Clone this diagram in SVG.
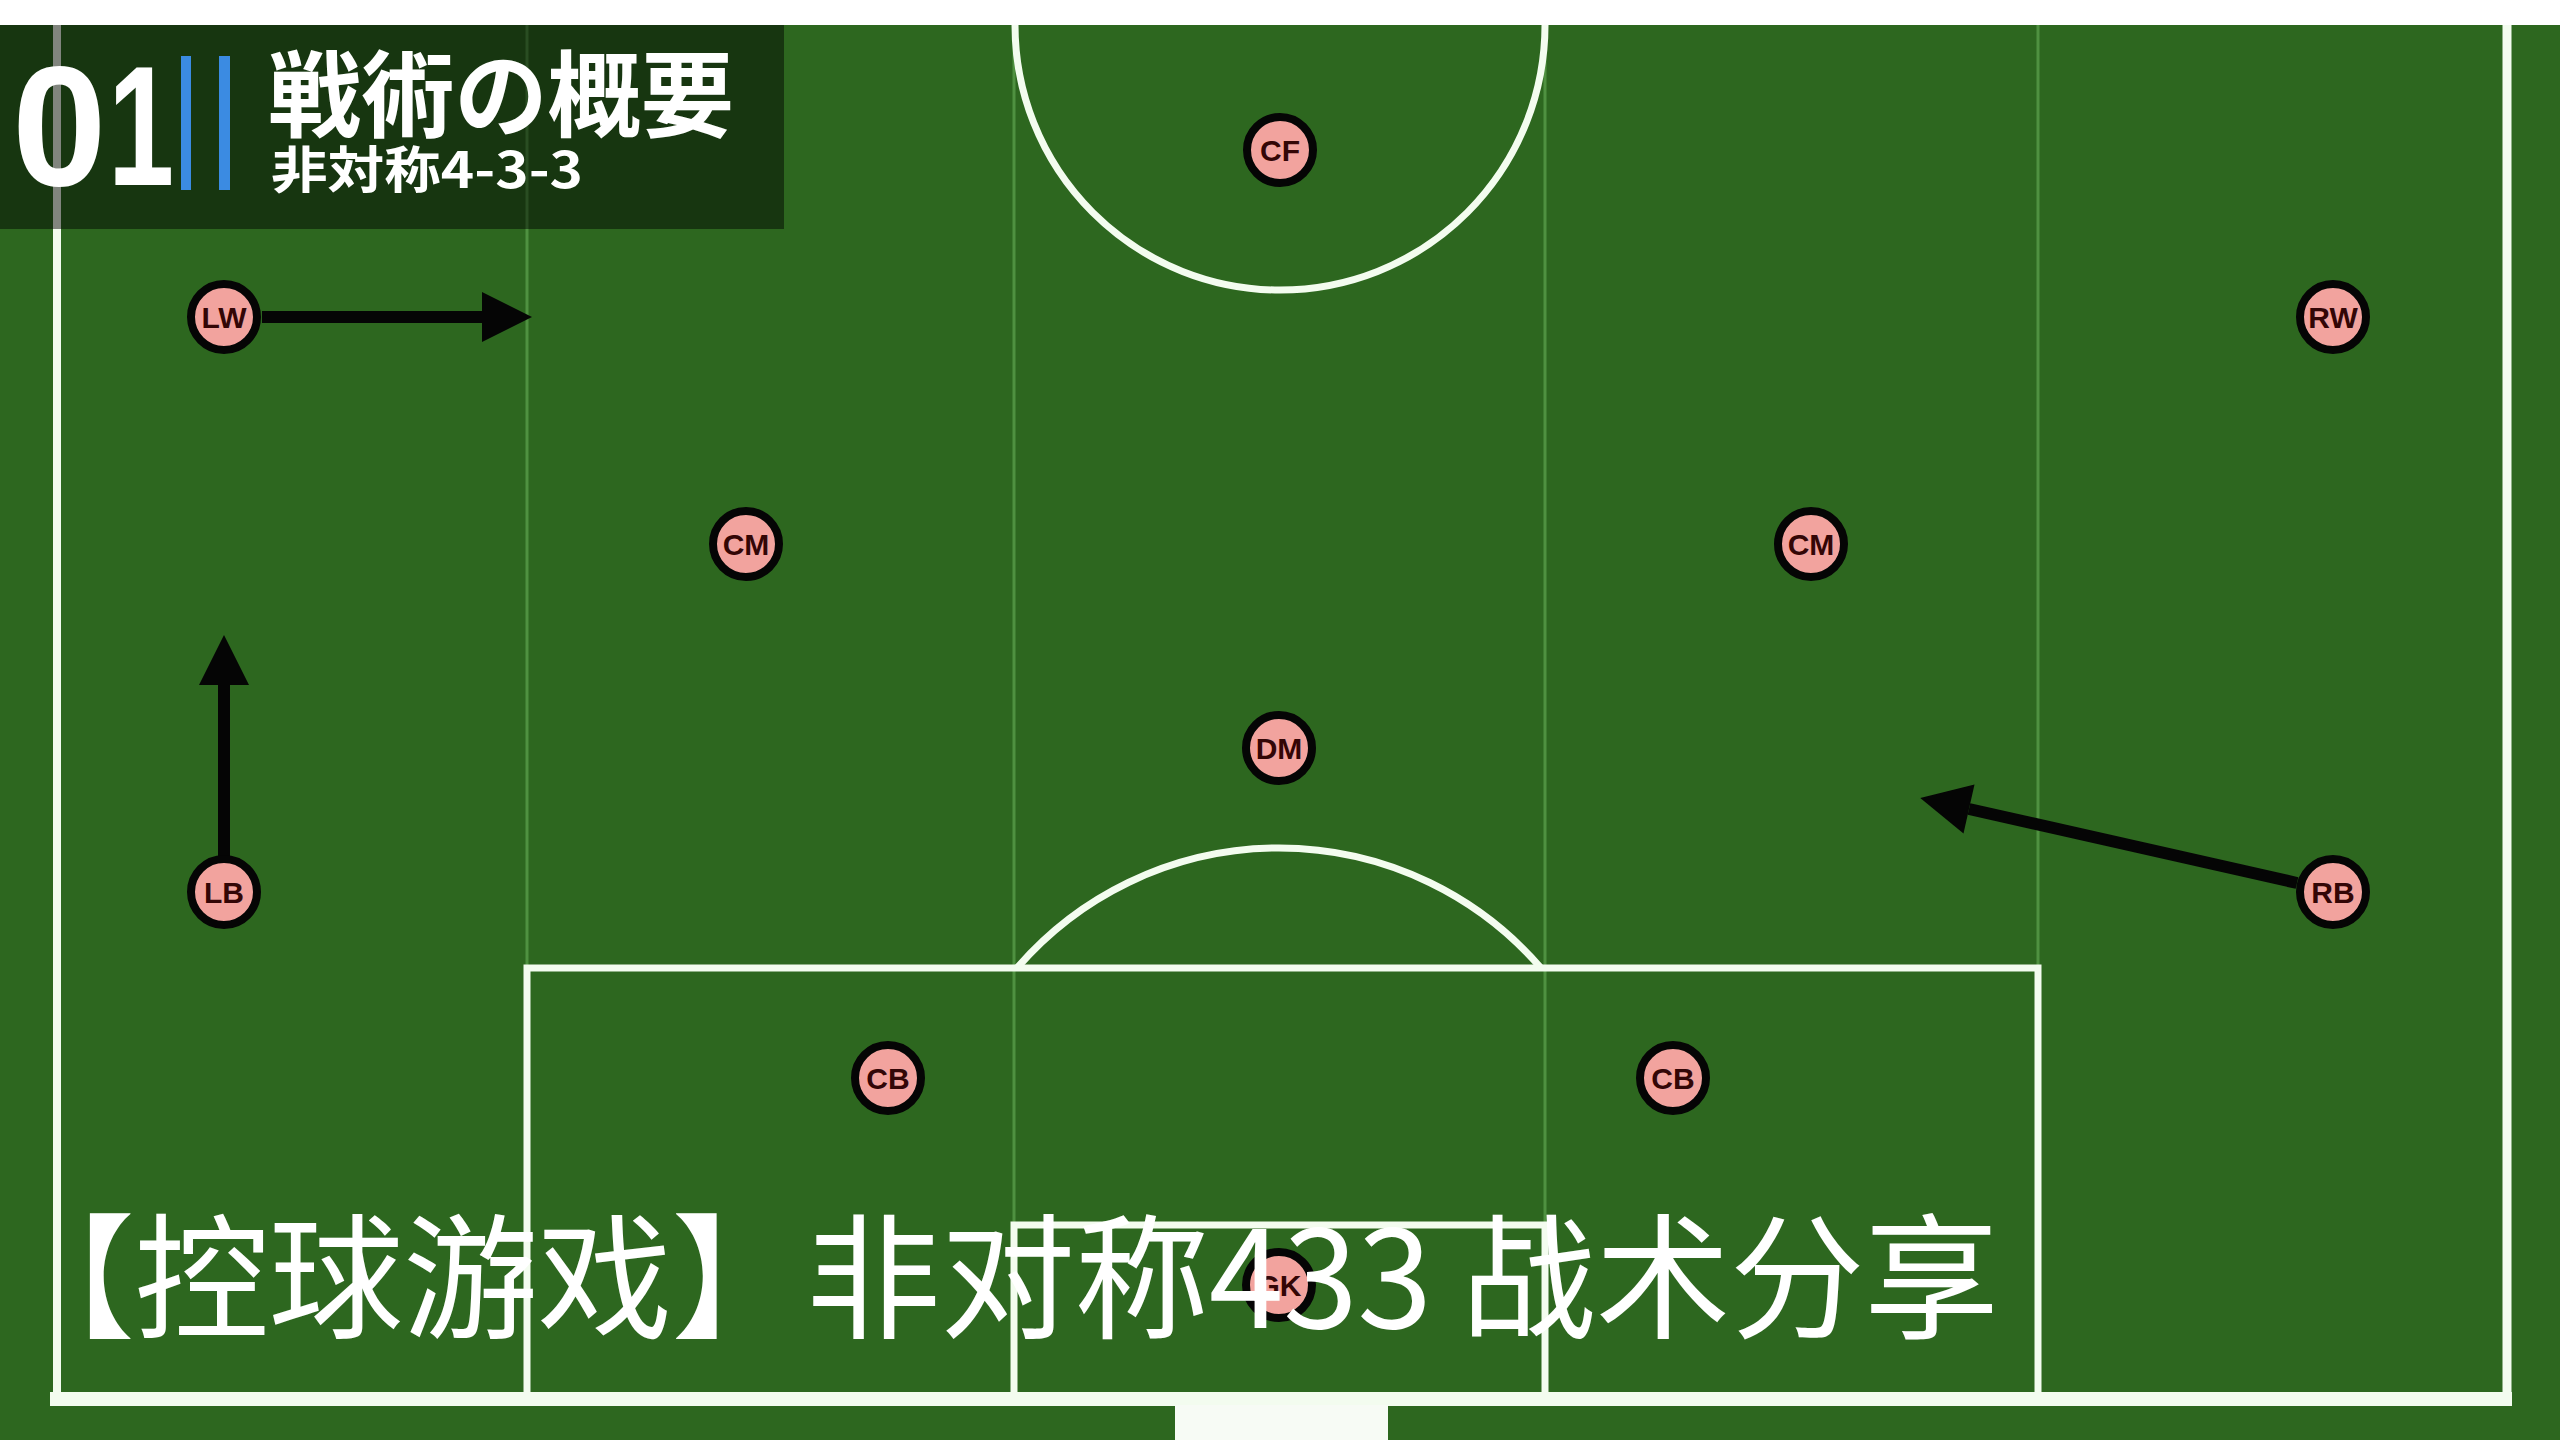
<svg xmlns="http://www.w3.org/2000/svg" width="2560" height="1440" viewBox="0 0 2560 1440">
  <style>
    .chalk { fill: none; stroke: #f3fcef; stroke-width: 7; }
    .zone { stroke: #4f9140; stroke-width: 3; fill: none; }
    .player circle { fill: #f2a39e; stroke: #050505; stroke-width: 8; }
    .player text { font-family: "Liberation Sans", Arial, sans-serif; font-weight: bold; font-size: 30px; fill: #330606; text-anchor: middle; }
    .move { stroke: #050505; stroke-width: 12; fill: none; marker-end: url(#head); }
    .big { font-family: "Liberation Sans", Arial, sans-serif; font-weight: bold; font-size: 170px; fill: #ffffff; }
  </style>
  <defs>
    <marker id="head" markerUnits="userSpaceOnUse" markerWidth="52" markerHeight="52" refX="0" refY="0" viewBox="0 -26 52 52" orient="auto" overflow="visible">
      <path d="M0,-25 L50,0 L0,25 Z" fill="#050505"/>
    </marker>
  </defs>

  <!-- background -->
  <rect x="0" y="0" width="2560" height="1440" fill="#2d671f"/>
  <rect x="0" y="0" width="2560" height="25" fill="#ffffff"/>

  <!-- zone lines -->
  <g id="zones">
    <line class="zone" x1="527" y1="25" x2="527" y2="1399"/>
    <line class="zone" x1="1014" y1="25" x2="1014" y2="1399"/>
    <line class="zone" x1="1545" y1="25" x2="1545" y2="1399"/>
    <line class="zone" x1="2038" y1="25" x2="2038" y2="1399"/>
  </g>

  <!-- pitch markings -->
  <g id="pitch">
    <line class="chalk" x1="57" y1="25" x2="57" y2="1399" style="stroke-width:8"/>
    <line class="chalk" x1="2507" y1="25" x2="2507" y2="1399" style="stroke-width:9"/>
    <path class="chalk" d="M1015,25 A265,265 0 0 0 1545,25"/>
    <rect class="chalk" x="527" y="968" width="1511" height="431"/>
    <rect class="chalk" x="1014" y="1225" width="531" height="174"/>
    <path class="chalk" d="M1017,968 A346,346 0 0 1 1541,968"/>
    <line class="chalk" x1="50" y1="1399" x2="2512" y2="1399" style="stroke-width:14"/>
    <rect x="1175" y="1405" width="213" height="35" fill="#f7fbf5"/>
  </g>

  <!-- connectors -->
  <g id="connectors">
    <line class="move" x1="262" y1="317" x2="482" y2="317"/>
    <line class="move" x1="224" y1="856" x2="224" y2="685"/>
    <line class="move" x1="2297" y1="883" x2="1969" y2="809"/>
  </g>

  <!-- players -->
  <g id="CF" class="player"><circle cx="1280" cy="150" r="33"/><text x="1280" y="161">CF</text></g>
  <g id="LW" class="player"><circle cx="224" cy="317" r="33"/><text x="224" y="328">LW</text></g>
  <g id="RW" class="player"><circle cx="2333" cy="317" r="33"/><text x="2333" y="328">RW</text></g>
  <g id="CM-left" class="player"><circle cx="746" cy="544" r="33"/><text x="746" y="555">CM</text></g>
  <g id="CM-right" class="player"><circle cx="1811" cy="544" r="33"/><text x="1811" y="555">CM</text></g>
  <g id="DM" class="player"><circle cx="1279" cy="748" r="33"/><text x="1279" y="759">DM</text></g>
  <g id="LB" class="player"><circle cx="224" cy="892" r="33"/><text x="224" y="903">LB</text></g>
  <g id="RB" class="player"><circle cx="2333" cy="892" r="33"/><text x="2333" y="903">RB</text></g>
  <g id="CB-left" class="player"><circle cx="888" cy="1078" r="33"/><text x="888" y="1089">CB</text></g>
  <g id="CB-right" class="player"><circle cx="1673" cy="1078" r="33"/><text x="1673" y="1089">CB</text></g>
  <g id="GK" class="player"><circle cx="1279" cy="1285" r="33"/><text x="1279" y="1296">GK</text></g>

  <!-- title panel -->
  <g id="title">
    <rect x="0" y="25" width="784" height="204" fill="#000000" fill-opacity="0.47"/>
    <text class="big" x="12" y="185">0</text>
    <text class="big" transform="translate(108,185) scale(0.7,1)" x="0" y="0">1</text>
    <rect x="181" y="56" width="10" height="134" fill="#3b8be2"/>
    <rect x="219" y="56" width="11" height="134" fill="#3b8be2"/>
    <text x="268" y="130" font-family="'Noto Sans CJK JP', 'Noto Sans CJK SC', sans-serif" font-weight="bold" font-size="94" fill="#ffffff" textLength="466" lengthAdjust="spacingAndGlyphs">戦術の概要</text>
    <text x="271" y="188" font-family="'Noto Sans CJK JP', 'Noto Sans CJK SC', sans-serif" font-weight="bold" font-size="50" fill="#ffffff" textLength="312" lengthAdjust="spacingAndGlyphs">非対称4-3-3</text>
  </g>

  <!-- caption -->
  <g id="caption">
    <text x="0" y="1328" font-family="'Noto Sans CJK SC', sans-serif" font-size="135" fill="#ffffff" textLength="1999" lengthAdjust="spacing">【控球游戏】非对称433 战术分享</text>
  </g>
</svg>
